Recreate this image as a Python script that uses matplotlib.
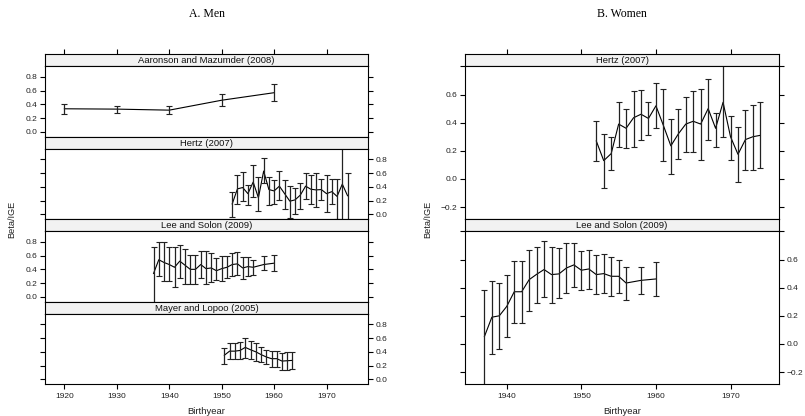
import matplotlib.pyplot as plt
import numpy as np

plt.rcParams['font.family'] = ['Liberation Sans', 'DejaVu Sans']

# ---- A. Men ----
# Aaronson and Mazumder (2008)
am_year = [1920, 1930, 1940, 1950, 1960]
am_beta = [0.335, 0.33, 0.315, 0.46, 0.57]
am_lo = [0.26, 0.28, 0.26, 0.375, 0.455]
am_hi = [0.405, 0.38, 0.37, 0.55, 0.70]

# Hertz (2007), men
hm_year = list(range(1952, 1975))
hm_beta = [0.15, 0.37, 0.39, 0.30, 0.47, 0.24, 0.63, 0.36, 0.34, 0.41, 0.30, 0.19,
           0.21, 0.28, 0.41, 0.365, 0.355, 0.36, 0.30, 0.33, 0.26, 0.44, 0.27]
hm_lo = [-0.04, 0.15, 0.20, 0.13, 0.25, 0.05, 0.46, 0.13, 0.15, 0.21, 0.07, -0.05,
         0.01, 0.07, 0.225, 0.15, 0.105, 0.21, 0.03, 0.15, -0.07, -0.2, -0.2]
hm_hi = [0.32, 0.58, 0.61, 0.42, 0.72, 0.54, 0.82, 0.55, 0.50, 0.63, 0.50, 0.41,
         0.39, 0.46, 0.60, 0.58, 0.60, 0.51, 0.57, 0.51, 0.51, 1.2, 0.60]

# Lee and Solon (2009), men
lm_year = list(range(1937, 1957)) + [1958, 1960]
lm_beta = [0.34, 0.54, 0.50, 0.47, 0.43, 0.52, 0.46, 0.40, 0.40, 0.47, 0.41, 0.42,
           0.38, 0.41, 0.43, 0.47, 0.48, 0.42, 0.44, 0.43, 0.47, 0.49]
lm_lo = [-0.2, 0.30, 0.227, 0.227, 0.145, 0.275, 0.18, 0.18, 0.18, 0.275, 0.18, 0.21,
         0.25, 0.227, 0.275, 0.30, 0.32, 0.26, 0.30, 0.32, 0.395, 0.38]
lm_hi = [0.73, 0.795, 0.795, 0.73, 0.72, 0.757, 0.694, 0.612, 0.612, 0.675, 0.675, 0.636,
         0.564, 0.60, 0.588, 0.636, 0.65, 0.573, 0.573, 0.54, 0.60, 0.61]

# Mayer and Lopoo (2005), men
ml_year = [1950.5 + i for i in range(14)]
ml_beta = [0.35, 0.41, 0.41, 0.42, 0.465, 0.43, 0.40, 0.36, 0.325, 0.30, 0.30, 0.265, 0.27, 0.275]
ml_lo = [0.22, 0.29, 0.29, 0.29, 0.315, 0.30, 0.265, 0.255, 0.22, 0.18, 0.18, 0.135, 0.135, 0.145]
ml_hi = [0.46, 0.525, 0.525, 0.55, 0.60, 0.565, 0.53, 0.47, 0.42, 0.41, 0.41, 0.38, 0.395, 0.395]

# ---- B. Women ----
# Hertz (2007), women
hw_year = list(range(1952, 1975))
hw_beta = [0.27, 0.13, 0.18, 0.39, 0.36, 0.435, 0.46, 0.43, 0.52, 0.38, 0.235, 0.32,
           0.39, 0.41, 0.39, 0.50, 0.36, 0.545, 0.30, 0.175, 0.28, 0.30, 0.31]
hw_lo = [0.13, -0.066, 0.06, 0.23, 0.22, 0.23, 0.28, 0.31, 0.36, 0.125, 0.035, 0.145,
         0.195, 0.195, 0.137, 0.28, 0.23, 0.295, 0.137, -0.025, 0.065, 0.065, 0.077]
hw_hi = [0.41, 0.32, 0.295, 0.55, 0.50, 0.626, 0.635, 0.55, 0.68, 0.636, 0.425, 0.495,
         0.585, 0.626, 0.643, 0.713, 0.468, 0.85, 0.445, 0.37, 0.49, 0.525, 0.545]

# Lee and Solon (2009), women
lw_year = list(range(1937, 1957)) + [1958, 1960]
lw_beta = [0.052, 0.19, 0.20, 0.267, 0.371, 0.371, 0.457, 0.495, 0.529, 0.493, 0.498, 0.54,
           0.562, 0.524, 0.533, 0.493, 0.50, 0.481, 0.481, 0.433, 0.452, 0.462]
lw_lo = [-0.4, -0.07, -0.036, 0.052, 0.152, 0.152, 0.233, 0.293, 0.333, 0.293, 0.324, 0.362,
         0.405, 0.383, 0.39, 0.355, 0.362, 0.343, 0.362, 0.314, 0.355, 0.343]
lw_hi = [0.383, 0.448, 0.436, 0.488, 0.588, 0.588, 0.667, 0.688, 0.729, 0.688, 0.679, 0.719,
         0.719, 0.66, 0.667, 0.633, 0.64, 0.619, 0.60, 0.548, 0.548, 0.581]

W, H = 805, 416
fig = plt.figure(figsize=(W / 100, H / 100), dpi=100)


def rect(x0, y0, x1, y1):
    # pixel box (top-left origin) -> figure fraction
    return [x0 / W, 1 - y1 / H, (x1 - x0) / W, (y1 - y0) / H]


def panel(x0, x1, top, strip_h, plot_h, title, x, y, lo, hi, xlim, ylim,
          yticks, ylabels, side, first, last, xticks):
    ax_s = fig.add_axes(rect(x0, top, x1, top + strip_h))
    ax = fig.add_axes(rect(x0, top + strip_h, x1, top + strip_h + plot_h))
    ax_s.set_facecolor('#f2f2f2')
    ax_s.set_xlim(xlim)
    ax_s.set_yticks([])
    ax_s.set_xticks(xticks)
    ax_s.tick_params(axis='x', bottom=False, labelbottom=False, top=first, labeltop=False,
                     direction='out', length=3.5, width=0.8)
    ax_s.text(0.5, 0.45, title, transform=ax_s.transAxes, ha='center', va='center',
              fontsize=6.8, color='#111')

    y = np.array(y)
    lo = np.array(lo)
    hi = np.array(hi)
    ax.plot(x, y, color='black', lw=0.8)
    ax.errorbar(x, y, yerr=[y - lo, hi - y], fmt='none', ecolor='#222',
                elinewidth=0.9, capsize=2, capthick=0.8)
    ax.set_xlim(xlim)
    ax.set_ylim(ylim)
    ax.set_xticks(xticks)
    ax.set_yticks(yticks)
    ax.set_yticklabels(ylabels)
    ax.tick_params(axis='y', direction='out', length=3.5, width=0.8, left=True, right=True,
                   labelleft=(side == 'left'), labelright=(side == 'right'),
                   labelsize=6, pad=2, labelcolor='#222')
    ax.tick_params(axis='x', direction='out', length=3.5, width=0.8, top=False,
                   bottom=last, labelbottom=last, labelsize=6, pad=3, labelcolor='#222')
    for a in (ax, ax_s):
        for sp in a.spines.values():
            sp.set_linewidth(0.8)
    return ax


# left column
lx0, lx1 = 45, 368
lxlim = (1916.3, 1977.9)
lylim = (-0.07, 0.96)
lyt = [0.0, 0.2, 0.4, 0.6, 0.8]
lyl = ['0.0', '0.2', '0.4', '0.6', '0.8']
lxt = [1920, 1930, 1940, 1950, 1960, 1970]
men = [
    ('Aaronson and Mazumder (2008)', am_year, am_beta, am_lo, am_hi, 'left'),
    ('Hertz (2007)', hm_year, hm_beta, hm_lo, hm_hi, 'right'),
    ('Lee and Solon (2009)', lm_year, lm_beta, lm_lo, lm_hi, 'left'),
    ('Mayer and Lopoo (2005)', ml_year, ml_beta, ml_lo, ml_hi, 'right'),
]
for i, (t, x, y, lo, hi, side) in enumerate(men):
    panel(lx0, lx1, 54 + i * 82.5, 12, 70.5, t, x, y, lo, hi, lxlim, lylim,
          lyt, lyl, side, i == 0, i == len(men) - 1, lxt)

# right column
rx0, rx1 = 465, 779
rxlim = (1934.4, 1976.5)
rylim = (-0.285, 0.803)
ryt = [-0.2, 0.0, 0.2, 0.4, 0.6, 0.8]
ryl = ['\u22120.2', '0.0', '0.2', '0.4', '0.6', '']
rxt = [1940, 1950, 1960, 1970]
women = [
    ('Hertz (2007)', hw_year, hw_beta, hw_lo, hw_hi, 'left'),
    ('Lee and Solon (2009)', lw_year, lw_beta, lw_lo, lw_hi, 'right'),
]
for i, (t, x, y, lo, hi, side) in enumerate(women):
    panel(rx0, rx1, 54 + i * 165, 12, 153, t, x, y, lo, hi, rxlim, rylim,
          ryt, ryl, side, i == 0, i == len(women) - 1, rxt)

# labels and titles
fig.text(12 / W, 1 - 219 / H, 'Beta/IGE', rotation=90, ha='center', va='center',
         fontsize=6.6, color='#222')
fig.text(428 / W, 1 - 219 / H, 'Beta/IGE', rotation=90, ha='center', va='center',
         fontsize=6.6, color='#222')
fig.text((lx0 + lx1) / 2 / W, 1 - 411 / H, 'Birthyear', ha='center', va='center',
         fontsize=6.8, color='#222')
fig.text((rx0 + rx1) / 2 / W, 1 - 411 / H, 'Birthyear', ha='center', va='center',
         fontsize=6.8, color='#222')
fig.text((lx0 + lx1) / 2 / W, 1 - 14 / H, 'A. Men', ha='center', va='center',
         fontsize=8.5, family='Liberation Serif')
fig.text((rx0 + rx1) / 2 / W, 1 - 14 / H, 'B. Women', ha='center', va='center',
         fontsize=8.5, family='Liberation Serif')

fig.savefig('out.png', dpi=100)
